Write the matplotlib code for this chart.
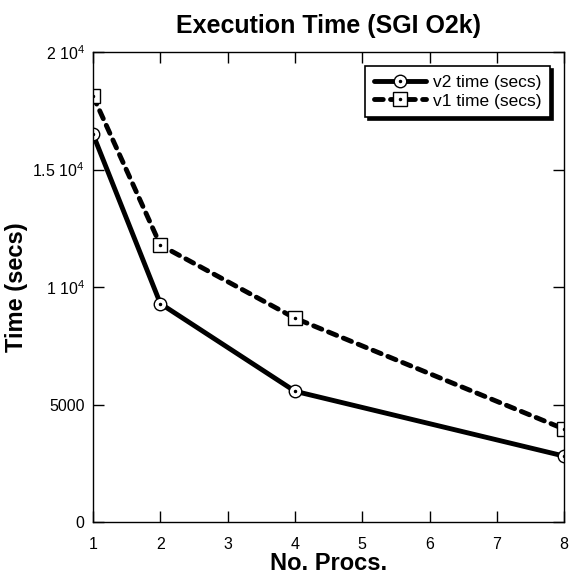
import matplotlib
matplotlib.use("Agg")
import matplotlib.pyplot as plt

plt.rcParams['font.family'] = ['Liberation Sans', 'DejaVu Sans']
plt.rcParams['mathtext.fontset'] = 'custom'
plt.rcParams['mathtext.rm'] = 'Liberation Sans'

procs = [1, 2, 4, 8]
v2_time = [16500, 9300, 5570, 2810]
v1_time = [18130, 11790, 8680, 3960]

y_ticks = [0, 5000, 10000, 15000, 20000]
y_labels = ['0', '5000', r'1 10$^4$', r'1.5 10$^4$', r'2 10$^4$']

fig = plt.figure(figsize=(5.71, 5.86), dpi=100)
ax = fig.add_axes([0.163, 0.109, 0.825, 0.802])

l2, = ax.plot(procs, v2_time, color='black', lw=3.5, marker='o', ms=9,
              mfc='white', mec='black', mew=1, solid_capstyle='round')
l1, = ax.plot(procs, v1_time, color='black', lw=3.5, ls=(0, (1.8, 1.5)),
              marker='s', ms=10, mfc='white', mec='black', mew=1,
              dash_capstyle='round')
# center dots inside the markers
d2, = ax.plot(procs, v2_time, ls='none', marker='o', ms=1.5, color='black')
d1, = ax.plot(procs, v1_time, ls='none', marker='o', ms=1.5, color='black')

ax.set_xlim(1, 8)
ax.set_ylim(0, 20000)
ax.set_xticks(range(1, 9))
ax.set_yticks(y_ticks)
ax.set_yticklabels(y_labels)
ax.tick_params(direction='in', length=8, labelsize=11.5, width=1,
               top=True, right=True)
ax.tick_params(axis='x', pad=11)
ax.tick_params(axis='y', pad=6)

for s in ax.spines.values():
    s.set_linewidth(1)

ax.set_title('Execution Time (SGI O2k)', fontsize=18, fontweight='bold', pad=14)
ax.set_xlabel('No. Procs.', fontsize=17, fontweight='bold', labelpad=0)
ax.set_ylabel('Time (secs)', fontsize=17, fontweight='bold', labelpad=3)

leg = ax.legend([(l2, d2), (l1, d1)], ['v2 time (secs)', 'v1 time (secs)'],
                loc='upper right', fontsize=12.5, frameon=True, fancybox=False,
                shadow={'color': 'black', 'alpha': 1}, edgecolor='black',
                handlelength=3, borderaxespad=0.8, handletextpad=0.4,
                borderpad=0.5, labelspacing=0.2)
leg.get_frame().set_linewidth(1.2)

fig.savefig('out.png', dpi=100)
